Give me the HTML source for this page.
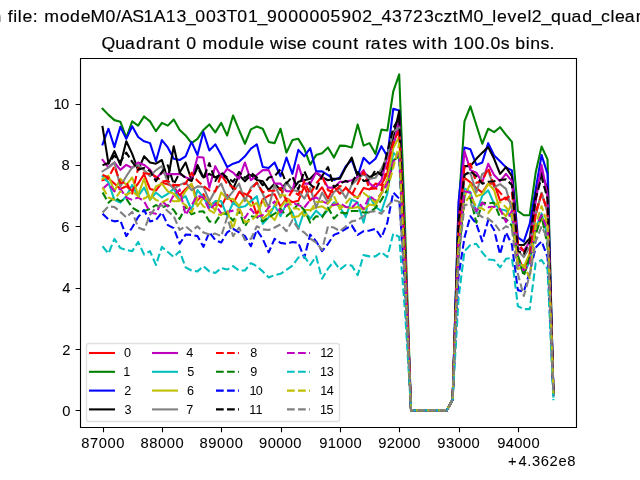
<!DOCTYPE html>
<html><head><meta charset="utf-8"><title>Quadrant 0 module wise count rates</title>
<style>
html,body{margin:0;padding:0;background:#fff;}
body{width:640px;height:480px;overflow:hidden;}
svg{display:block;}
text{font-family:"Liberation Sans",sans-serif;fill:#000;}
.t{opacity:0.999;will-change:transform;}
</style></head><body>
<svg width="640" height="480" viewBox="0 0 640 480">
<rect x="0" y="0" width="640" height="480" fill="#fff"/>
<defs><clipPath id="ax"><rect x="80" y="57.6" width="496" height="369.6"/></clipPath></defs>
<g clip-path="url(#ax)" fill="none" stroke-width="2.0833" stroke-linejoin="round">
<polyline stroke="#ff0000" stroke-linecap="square" points="102.55,180.25 108.48,178.58 114.41,183.59 120.34,188.94 126.28,186.21 132.21,190.94 138.14,183.48 144.08,174.28 150.01,188.95 155.94,190.55 161.88,182.64 167.81,184.28 173.74,186.82 179.67,195.38 185.61,189.08 191.54,184.13 197.47,200.39 203.41,194.21 209.34,205.89 215.27,201.82 221.21,206.67 227.14,194.95 233.07,203.49 239.00,192.30 244.94,193.79 250.87,197.04 256.80,214.78 262.74,199.48 268.67,195.59 274.60,194.22 280.54,206.70 286.47,198.50 292.40,202.22 298.33,200.79 304.27,186.32 310.20,200.52 316.13,194.45 322.07,187.29 328.00,198.42 333.93,186.40 339.87,193.76 345.80,187.93 351.73,193.76 357.67,198.06 363.60,187.93 369.53,189.47 375.46,183.64 381.40,184.87 387.33,173.21 393.26,131.90 399.20,128.59 405.13,275.92 411.06,410.40 417.00,410.40 422.93,410.40 428.86,410.40 434.79,410.40 440.73,410.40 446.66,410.40 452.59,399.66 458.53,235.37 464.46,177.73 470.39,182.43 476.33,187.99 482.26,192.59 488.19,183.72 494.12,183.35 500.06,200.69 505.99,197.48 511.92,203.76 517.86,256.87 523.79,269.30 529.72,256.84 535.66,215.21 541.59,193.21 547.52,211.34 553.45,393.52"/>
<polyline stroke="#008000" stroke-linecap="square" points="102.55,108.77 108.48,114.90 114.41,120.12 120.34,121.65 126.28,137.61 132.21,121.35 138.14,125.64 144.08,116.44 150.01,121.35 155.94,131.17 161.88,122.88 167.81,125.64 173.74,119.51 179.67,129.94 185.61,135.46 191.54,143.13 197.47,138.84 203.41,129.94 209.34,124.42 215.27,132.39 221.21,122.88 227.14,135.46 233.07,115.52 239.00,129.94 244.94,143.75 250.87,129.33 256.80,126.56 262.74,128.71 268.67,141.91 274.60,143.13 280.54,128.71 286.47,152.65 292.40,140.07 298.33,138.84 304.27,148.66 310.20,164.61 316.13,155.10 322.07,153.26 328.00,147.43 333.93,157.56 339.87,145.59 345.80,145.90 351.73,147.43 357.67,124.42 363.60,145.59 369.53,143.13 375.46,153.87 381.40,129.63 387.33,130.55 393.26,91.28 399.20,74.40 405.13,229.36 411.06,410.40 417.00,410.40 422.93,410.40 428.86,410.40 434.79,410.40 440.73,410.40 446.66,410.40 452.59,399.66 458.53,207.88 464.46,121.35 470.39,106.31 476.33,125.03 482.26,143.75 488.19,128.71 494.12,132.09 500.06,127.18 505.99,134.85 511.92,141.91 517.86,210.95 523.79,215.24 529.72,215.24 535.66,172.59 541.59,146.51 547.52,159.40 553.45,395.06"/>
<polyline stroke="#0000ff" stroke-linecap="square" points="102.55,144.36 108.48,128.71 114.41,147.12 120.34,126.87 126.28,138.84 132.21,126.26 138.14,137.00 144.08,141.29 150.01,143.13 155.94,161.24 161.88,140.07 167.81,147.43 173.74,158.78 179.67,160.01 185.61,156.33 191.54,141.91 197.47,155.10 203.41,132.09 209.34,150.50 215.27,144.36 221.21,155.10 227.14,167.07 233.07,163.69 239.00,161.85 244.94,156.33 250.87,148.66 256.80,144.36 262.74,167.07 268.67,167.99 274.60,162.47 280.54,176.27 286.47,157.56 292.40,173.82 298.33,149.88 304.27,156.33 310.20,148.04 316.13,171.36 322.07,171.36 328.00,175.05 333.93,179.96 339.87,177.50 345.80,166.15 351.73,160.01 357.67,176.27 363.60,157.86 369.53,163.69 375.46,158.78 381.40,146.20 387.33,156.33 393.26,108.77 399.20,110.61 405.13,249.31 411.06,410.40 417.00,410.40 422.93,410.40 428.86,410.40 434.79,410.40 440.73,410.40 446.66,410.40 452.59,399.66 458.53,202.17 464.46,147.43 470.39,149.27 476.33,164.92 482.26,162.47 488.19,143.13 494.12,155.41 500.06,161.24 505.99,167.38 511.92,170.44 517.86,237.34 523.79,241.63 529.72,223.84 535.66,189.47 541.59,155.10 547.52,173.82 553.45,391.99"/>
<polyline stroke="#000000" stroke-linecap="square" points="102.55,126.87 108.48,163.69 114.41,151.11 120.34,164.92 126.28,141.29 132.21,153.87 138.14,170.14 144.08,156.33 150.01,162.47 155.94,163.69 161.88,160.01 167.81,179.96 173.74,146.20 179.67,172.59 185.61,162.47 191.54,179.96 197.47,164.92 203.41,177.50 209.34,173.82 215.27,177.50 221.21,174.13 227.14,178.73 233.07,188.85 239.00,175.05 244.94,181.18 250.87,175.05 256.80,179.96 262.74,181.18 268.67,190.08 274.60,183.64 280.54,190.08 286.47,182.41 292.40,190.08 298.33,181.80 304.27,180.26 310.20,178.73 316.13,172.59 322.07,177.19 328.00,180.26 333.93,178.73 339.87,178.73 345.80,167.38 351.73,157.56 357.67,176.27 363.60,172.59 369.53,177.19 375.46,174.13 381.40,172.59 387.33,155.10 393.26,137.30 399.20,110.92 405.13,257.92 411.06,410.40 417.00,410.40 422.93,410.40 428.86,410.40 434.79,410.40 440.73,410.40 446.66,410.40 452.59,399.66 458.53,219.83 464.46,166.15 470.39,166.15 476.33,158.78 482.26,152.65 488.19,147.12 494.12,158.78 500.06,173.82 505.99,167.07 511.92,176.27 517.86,244.70 523.79,245.01 529.72,238.56 535.66,195.61 541.59,172.59 547.52,189.47 553.45,391.99"/>
<polyline stroke="#bf00bf" stroke-linecap="square" points="102.55,160.01 108.48,167.38 114.41,162.47 120.34,169.83 126.28,164.92 132.21,167.99 138.14,162.47 144.08,164.92 150.01,169.52 155.94,178.73 161.88,172.59 167.81,174.13 173.74,174.13 179.67,174.13 185.61,177.19 191.54,179.96 197.47,156.94 203.41,157.56 209.34,187.63 215.27,166.15 221.21,177.19 227.14,168.91 233.07,172.59 239.00,178.73 244.94,162.47 250.87,180.26 256.80,175.05 262.74,170.14 268.67,170.14 274.60,183.64 280.54,183.64 286.47,191.31 292.40,191.31 298.33,164.92 304.27,183.64 310.20,183.64 316.13,172.59 322.07,176.27 328.00,187.63 333.93,187.63 339.87,181.80 345.80,181.80 351.73,180.26 357.67,177.19 363.60,170.14 369.53,183.33 375.46,187.93 381.40,180.26 387.33,157.56 393.26,147.43 399.20,119.51 405.13,252.84 411.06,410.40 417.00,410.40 422.93,410.40 428.86,410.40 434.79,410.40 440.73,410.40 446.66,410.40 452.59,399.66 458.53,223.69 464.46,151.11 470.39,170.14 476.33,172.59 482.26,182.41 488.19,163.69 494.12,175.05 500.06,181.18 505.99,173.82 511.92,181.18 517.86,247.77 523.79,250.84 529.72,241.63 535.66,201.74 541.59,164.92 547.52,195.61 553.45,393.52"/>
<polyline stroke="#00bfbf" stroke-linecap="square" points="102.55,176.27 108.48,182.41 114.41,199.90 120.34,202.66 126.28,196.22 132.21,184.87 138.14,196.22 144.08,187.63 150.01,199.90 155.94,192.54 161.88,197.45 167.81,193.76 173.74,188.85 179.67,199.90 185.61,196.22 191.54,210.03 197.47,190.08 203.41,197.45 209.34,207.57 215.27,201.13 221.21,201.13 227.14,216.16 233.07,202.66 239.00,207.57 244.94,206.35 250.87,201.13 256.80,196.22 262.74,223.84 268.67,217.39 274.60,205.12 280.54,216.16 286.47,203.58 292.40,212.48 298.33,228.75 304.27,211.25 310.20,218.62 316.13,210.64 322.07,216.16 328.00,210.03 333.93,202.36 339.87,206.96 345.80,217.08 351.73,199.59 357.67,202.36 363.60,222.61 369.53,196.53 375.46,206.96 381.40,211.25 387.33,193.76 393.26,152.64 399.20,158.20 405.13,271.19 411.06,410.40 417.00,410.40 422.93,410.40 428.86,410.40 434.79,410.40 440.73,410.40 446.66,410.40 452.59,399.66 458.53,249.98 464.46,188.25 470.39,192.23 476.33,212.81 482.26,195.72 488.19,190.40 494.12,203.79 500.06,209.20 505.99,210.57 511.92,217.65 517.86,258.75 523.79,272.96 529.72,261.66 535.66,228.95 541.59,213.44 547.52,236.07 553.45,396.59"/>
<polyline stroke="#bfbf00" stroke-linecap="square" points="102.55,178.73 108.48,175.66 114.41,191.31 120.34,178.73 126.28,184.87 132.21,177.50 138.14,194.99 144.08,178.73 150.01,199.90 155.94,186.40 161.88,183.64 167.81,191.31 173.74,193.76 179.67,200.99 185.61,191.05 191.54,183.58 197.47,206.27 203.41,197.45 209.34,201.44 215.27,210.83 221.21,192.42 227.14,198.98 233.07,198.99 239.00,206.04 244.94,197.52 250.87,205.88 256.80,202.97 262.74,218.62 268.67,213.71 274.60,220.15 280.54,207.57 286.47,199.90 292.40,217.39 298.33,216.16 304.27,210.03 310.20,210.03 316.13,207.57 322.07,206.35 328.00,210.03 333.93,203.89 339.87,205.42 345.80,206.96 351.73,208.19 357.67,206.96 363.60,209.72 369.53,204.50 375.46,205.42 381.40,193.76 387.33,179.04 393.26,147.90 399.20,136.79 405.13,276.06 411.06,410.40 417.00,410.40 422.93,410.40 428.86,410.40 434.79,410.40 440.73,410.40 446.66,410.40 452.59,399.66 458.53,232.31 464.46,196.52 470.39,183.58 476.33,196.38 482.26,194.05 488.19,183.66 494.12,190.30 500.06,210.66 505.99,216.11 511.92,202.84 517.86,268.94 523.79,267.01 529.72,253.34 535.66,230.60 541.59,218.69 547.52,223.14 553.45,393.52"/>
<polyline stroke="#808080" stroke-linecap="square" points="102.55,171.36 108.48,167.38 114.41,162.47 120.34,186.40 126.28,176.27 132.21,167.38 138.14,164.92 144.08,170.14 150.01,176.27 155.94,170.14 161.88,166.15 167.81,182.41 173.74,188.85 179.67,184.87 185.61,182.41 191.54,190.08 197.47,186.40 203.41,187.01 209.34,201.13 215.27,190.70 221.21,183.64 227.14,198.67 233.07,191.31 239.00,183.64 244.94,201.13 250.87,187.63 256.80,182.41 262.74,193.76 268.67,207.57 274.60,184.87 280.54,197.45 286.47,182.41 292.40,190.08 298.33,191.31 304.27,198.67 310.20,187.63 316.13,207.57 322.07,192.54 328.00,202.66 333.93,191.92 339.87,188.55 345.80,198.06 351.73,184.87 357.67,179.04 363.60,174.13 369.53,179.04 375.46,177.81 381.40,168.91 387.33,155.72 393.26,131.55 399.20,127.58 405.13,256.79 411.06,410.40 417.00,410.40 422.93,410.40 428.86,410.40 434.79,410.40 440.73,410.40 446.66,410.40 452.59,399.66 458.53,237.40 464.46,173.95 470.39,173.15 476.33,192.53 482.26,173.83 488.19,170.92 494.12,187.25 500.06,184.19 505.99,188.86 511.92,209.48 517.86,250.66 523.79,257.10 529.72,247.17 535.66,213.61 541.59,192.84 547.52,212.62 553.45,391.99"/>
<polyline stroke="#ff0000" stroke-linecap="butt" stroke-dasharray="7.708 3.333" points="102.55,174.63 108.48,177.73 114.41,166.45 120.34,182.93 126.28,182.15 132.21,193.59 138.14,168.10 144.08,173.23 150.01,174.09 155.94,176.48 161.88,181.26 167.81,180.94 173.74,185.02 179.67,185.14 185.61,183.65 191.54,172.96 197.47,180.79 203.41,185.99 209.34,190.48 215.27,191.39 221.21,174.72 227.14,183.62 233.07,187.48 239.00,191.14 244.94,197.49 250.87,189.98 256.80,182.64 262.74,192.22 268.67,190.83 274.60,190.65 280.54,187.99 286.47,200.92 292.40,190.38 298.33,195.00 304.27,181.53 310.20,194.10 316.13,183.64 322.07,176.24 328.00,190.21 333.93,192.29 339.87,186.08 345.80,187.44 351.73,194.92 357.67,183.63 363.60,171.58 369.53,188.89 375.46,188.34 381.40,190.20 387.33,166.17 393.26,142.38 399.20,130.22 405.13,255.67 411.06,410.40 417.00,410.40 422.93,410.40 428.86,410.40 434.79,410.40 440.73,410.40 446.66,410.40 452.59,399.66 458.53,235.18 464.46,166.50 470.39,163.78 476.33,182.84 482.26,181.04 488.19,167.93 494.12,185.64 500.06,192.59 505.99,199.52 511.92,193.22 517.86,243.15 523.79,250.85 529.72,253.49 535.66,212.28 541.59,194.31 547.52,209.76 553.45,393.52"/>
<polyline stroke="#008000" stroke-linecap="butt" stroke-dasharray="7.708 3.333" points="102.55,192.54 108.48,202.66 114.41,197.45 120.34,201.13 126.28,198.67 132.21,207.57 138.14,211.25 144.08,211.25 150.01,208.80 155.94,205.12 161.88,207.57 167.81,205.12 173.74,210.03 179.67,218.93 185.61,206.35 191.54,214.32 197.47,211.87 203.41,211.25 209.34,221.38 215.27,222.61 221.21,213.71 227.14,213.71 233.07,220.77 239.00,210.95 244.94,226.29 250.87,216.16 256.80,217.08 262.74,221.38 268.67,217.39 274.60,213.71 280.54,208.80 286.47,216.16 292.40,211.25 298.33,203.58 304.27,210.03 310.20,222.61 316.13,216.16 322.07,217.39 328.00,207.57 333.93,218.62 339.87,212.48 345.80,213.40 351.73,210.95 357.67,210.95 363.60,212.48 369.53,212.48 375.46,207.88 381.40,199.90 387.33,189.47 393.26,160.82 399.20,155.88 405.13,288.24 411.06,410.40 417.00,410.40 422.93,410.40 428.86,410.40 434.79,410.40 440.73,410.40 446.66,410.40 452.59,399.66 458.53,256.60 464.46,196.09 470.39,198.19 476.33,222.66 482.26,202.73 488.19,203.35 494.12,202.76 500.06,217.35 505.99,218.80 511.92,225.89 517.86,255.25 523.79,275.89 529.72,257.09 535.66,234.92 541.59,215.98 547.52,245.19 553.45,395.06"/>
<polyline stroke="#0000ff" stroke-linecap="butt" stroke-dasharray="7.708 3.333" points="102.55,213.71 108.48,219.54 114.41,221.38 120.34,220.46 126.28,236.11 132.21,227.52 138.14,217.08 144.08,210.03 150.01,221.38 155.94,220.15 161.88,212.48 167.81,225.06 173.74,228.13 179.67,243.78 185.61,234.58 191.54,234.88 197.47,236.11 203.41,246.85 209.34,232.12 215.27,240.10 221.21,242.55 227.14,232.43 233.07,228.75 239.00,232.43 244.94,236.11 250.87,246.24 256.80,229.97 262.74,238.87 268.67,252.37 274.60,238.87 280.54,242.86 286.47,243.78 292.40,241.94 298.33,242.86 304.27,257.90 310.20,234.58 316.13,241.33 322.07,251.15 328.00,243.78 333.93,234.88 339.87,232.43 345.80,228.75 351.73,225.37 357.67,234.88 363.60,231.20 369.53,230.59 375.46,228.75 381.40,237.64 387.33,222.61 393.26,192.54 399.20,198.67 405.13,289.19 411.06,410.40 417.00,410.40 422.93,410.40 428.86,410.40 434.79,410.40 440.73,410.40 446.66,410.40 452.59,399.66 458.53,276.33 464.46,237.64 470.39,216.16 476.33,223.84 482.26,241.33 488.19,220.15 494.12,229.97 500.06,254.21 505.99,232.43 511.92,244.70 517.86,290.12 523.79,291.65 529.72,272.32 535.66,247.46 541.59,241.33 547.52,256.98 553.45,395.06"/>
<polyline stroke="#000000" stroke-linecap="butt" stroke-dasharray="7.708 3.333" points="102.55,165.23 108.48,163.08 114.41,155.72 120.34,161.85 126.28,152.65 132.21,161.85 138.14,169.52 144.08,167.99 150.01,171.06 155.94,181.20 161.88,172.04 167.81,165.27 173.74,184.14 179.67,172.75 185.61,178.13 191.54,181.01 197.47,167.33 203.41,178.22 209.34,163.12 215.27,180.97 221.21,172.39 227.14,177.47 233.07,181.87 239.00,171.95 244.94,178.02 250.87,172.57 256.80,177.43 262.74,185.27 268.67,177.59 274.60,176.28 280.54,169.20 286.47,183.38 292.40,176.60 298.33,189.38 304.27,171.05 310.20,184.21 316.13,189.65 322.07,176.11 328.00,167.05 333.93,187.10 339.87,183.62 345.80,180.85 351.73,183.69 357.67,171.98 363.60,180.96 369.53,180.17 375.46,170.03 381.40,175.46 387.33,152.04 393.26,128.21 399.20,117.88 405.13,268.14 411.06,410.40 417.00,410.40 422.93,410.40 428.86,410.40 434.79,410.40 440.73,410.40 446.66,410.40 452.59,399.66 458.53,220.15 464.46,175.05 470.39,171.06 476.33,176.27 482.26,183.64 488.19,181.80 494.12,181.18 500.06,179.96 505.99,179.34 511.92,184.87 517.86,250.84 523.79,253.91 529.72,241.63 535.66,198.67 541.59,177.19 547.52,198.67 553.45,391.99"/>
<polyline stroke="#bf00bf" stroke-linecap="butt" stroke-dasharray="7.708 3.333" points="102.55,188.85 108.48,183.64 114.41,191.31 120.34,188.85 126.28,197.45 132.21,199.90 138.14,197.45 144.08,201.13 150.01,212.48 155.94,213.71 161.88,201.13 167.81,206.35 173.74,194.99 179.67,189.47 185.61,214.94 191.54,205.12 197.47,195.61 203.41,197.45 209.34,210.03 215.27,203.89 221.21,213.71 227.14,211.87 233.07,210.64 239.00,209.41 244.94,218.01 250.87,208.80 256.80,216.78 262.74,215.19 268.67,207.57 274.60,201.44 280.54,212.48 286.47,205.12 292.40,202.66 298.33,205.12 304.27,207.57 310.20,199.90 316.13,197.45 322.07,201.13 328.00,203.89 333.93,205.12 339.87,203.20 345.80,206.92 351.73,207.50 357.67,201.81 363.60,208.91 369.53,195.81 375.46,200.81 381.40,193.43 387.33,183.62 393.26,161.90 399.20,152.89 405.13,277.08 411.06,410.40 417.00,410.40 422.93,410.40 428.86,410.40 434.79,410.40 440.73,410.40 446.66,410.40 452.59,399.66 458.53,247.89 464.46,191.25 470.39,192.71 476.33,211.41 482.26,202.64 488.19,207.15 494.12,206.84 500.06,209.01 505.99,222.01 511.92,210.79 517.86,264.33 523.79,270.37 529.72,263.71 535.66,226.08 541.59,215.27 547.52,229.59 553.45,395.67"/>
<polyline stroke="#00bfbf" stroke-linecap="butt" stroke-dasharray="7.708 3.333" points="102.55,246.24 108.48,253.60 114.41,238.87 120.34,248.08 126.28,249.92 132.21,251.15 138.14,241.94 144.08,254.52 150.01,251.15 155.94,264.95 161.88,246.85 167.81,252.07 173.74,256.98 179.67,251.15 185.61,267.41 191.54,270.48 197.47,271.40 203.41,266.18 209.34,271.40 215.27,272.93 221.21,268.02 227.14,269.56 233.07,266.18 239.00,270.48 244.94,270.48 250.87,263.11 256.80,266.18 262.74,271.40 268.67,277.53 274.60,275.08 280.54,273.85 286.47,269.86 292.40,265.57 298.33,257.59 304.27,256.36 310.20,264.95 316.13,256.36 322.07,278.76 328.00,268.64 333.93,261.27 339.87,269.56 345.80,264.95 351.73,265.57 357.67,275.08 363.60,255.13 369.53,256.36 375.46,256.36 381.40,252.07 387.33,256.98 393.26,233.65 399.20,237.03 405.13,313.28 411.06,410.40 417.00,410.40 422.93,410.40 428.86,410.40 434.79,410.40 440.73,410.40 446.66,410.40 452.59,399.66 458.53,298.95 464.46,251.15 470.39,245.01 476.33,243.78 482.26,252.37 488.19,259.43 494.12,260.04 500.06,267.41 505.99,258.82 511.92,257.90 517.86,306.07 523.79,309.14 529.72,309.14 535.66,263.11 541.59,260.04 547.52,269.25 553.45,400.27"/>
<polyline stroke="#bfbf00" stroke-linecap="butt" stroke-dasharray="7.708 3.333" points="102.55,187.63 108.48,197.45 114.41,199.90 120.34,191.31 126.28,194.99 132.21,191.31 138.14,196.22 144.08,198.67 150.01,194.99 155.94,199.90 161.88,202.36 167.81,199.19 173.74,201.26 179.67,201.13 185.61,205.12 191.54,212.48 197.47,198.67 203.41,206.35 209.34,210.03 215.27,213.71 221.21,214.94 227.14,210.11 233.07,228.90 239.00,207.07 244.94,221.90 250.87,220.89 256.80,215.31 262.74,200.16 268.67,212.26 274.60,206.82 280.54,194.98 286.47,195.65 292.40,208.16 298.33,208.71 304.27,216.02 310.20,211.16 316.13,202.06 322.07,201.78 328.00,203.45 333.93,196.16 339.87,209.20 345.80,203.20 351.73,196.64 357.67,197.26 363.60,193.02 369.53,197.67 375.46,202.58 381.40,192.70 387.33,189.98 393.26,167.79 399.20,143.81 405.13,276.12 411.06,410.40 417.00,410.40 422.93,410.40 428.86,410.40 434.79,410.40 440.73,410.40 446.66,410.40 452.59,399.66 458.53,242.82 464.46,203.36 470.39,195.18 476.33,206.98 482.26,208.60 488.19,212.99 494.12,205.35 500.06,201.93 505.99,207.17 511.92,215.27 517.86,265.52 523.79,264.92 529.72,278.22 535.66,224.77 541.59,206.17 547.52,223.96 553.45,393.52"/>
<polyline stroke="#808080" stroke-linecap="butt" stroke-dasharray="7.708 3.333" points="102.55,212.48 108.48,206.35 114.41,206.96 120.34,211.87 126.28,217.39 132.21,211.87 138.14,227.52 144.08,229.97 150.01,214.94 155.94,207.57 161.88,205.12 167.81,211.25 173.74,216.16 179.67,229.97 185.61,226.29 191.54,231.20 197.47,226.29 203.41,232.43 209.34,234.58 215.27,233.65 221.21,236.11 227.14,217.39 233.07,236.11 239.00,227.52 244.94,240.10 250.87,238.87 256.80,226.29 262.74,229.36 268.67,229.97 274.60,227.52 280.54,224.45 286.47,231.20 292.40,220.15 298.33,228.75 304.27,232.43 310.20,238.56 316.13,242.55 322.07,249.92 328.00,226.29 333.93,227.52 339.87,231.20 345.80,226.29 351.73,221.38 357.67,220.15 363.60,216.16 369.53,211.87 375.46,211.25 381.40,213.71 387.33,206.35 393.26,199.90 399.20,201.74 405.13,282.37 411.06,410.40 417.00,410.40 422.93,410.40 428.86,410.40 434.79,410.40 440.73,410.40 446.66,410.40 452.59,399.66 458.53,259.48 464.46,205.12 470.39,203.89 476.33,212.48 482.26,217.08 488.19,218.62 494.12,223.22 500.06,231.20 505.99,226.29 511.92,229.36 517.86,273.85 523.79,295.95 529.72,275.39 535.66,241.63 541.59,226.29 547.52,238.56 553.45,393.52"/>
</g>
<g stroke="#000" stroke-width="1.111" fill="none" stroke-linecap="square">
<path d="M80.5 58.5V427.5M576.5 58.5V427.5M80.5 58.5H576.5M80.5 427.5H576.5"/>
<path stroke-linecap="butt" d="M103.5 427.5V432.36M162.5 427.5V432.36M221.5 427.5V432.36M281.5 427.5V432.36M340.5 427.5V432.36M399.5 427.5V432.36M459.5 427.5V432.36M518.5 427.5V432.36M80.5 410.5H75.64M80.5 349.5H75.64M80.5 288.5H75.64M80.5 226.5H75.64M80.5 165.5H75.64M80.5 104.5H75.64"/>
</g>
<rect x="86.5" y="343.5" width="253" height="78" rx="2.3" ry="2.3" fill="#fff" fill-opacity="0.8" stroke="#e0e0e0" stroke-width="1.389"/>
<line x1="89.00" y1="353.00" x2="115.00" y2="353.00" stroke="#ff0000" stroke-width="2.0833" stroke-linecap="butt"/>
<line x1="89.00" y1="371.80" x2="115.00" y2="371.80" stroke="#008000" stroke-width="2.0833" stroke-linecap="butt"/>
<line x1="89.00" y1="390.60" x2="115.00" y2="390.60" stroke="#0000ff" stroke-width="2.0833" stroke-linecap="butt"/>
<line x1="89.00" y1="409.40" x2="115.00" y2="409.40" stroke="#000000" stroke-width="2.0833" stroke-linecap="butt"/>
<line x1="152.00" y1="353.00" x2="178.00" y2="353.00" stroke="#bf00bf" stroke-width="2.0833" stroke-linecap="butt"/>
<line x1="152.00" y1="371.80" x2="178.00" y2="371.80" stroke="#00bfbf" stroke-width="2.0833" stroke-linecap="butt"/>
<line x1="152.00" y1="390.60" x2="178.00" y2="390.60" stroke="#bfbf00" stroke-width="2.0833" stroke-linecap="butt"/>
<line x1="152.00" y1="409.40" x2="178.00" y2="409.40" stroke="#808080" stroke-width="2.0833" stroke-linecap="butt"/>
<line x1="216.00" y1="353.00" x2="239.00" y2="353.00" stroke="#ff0000" stroke-width="2.0833" stroke-linecap="butt" stroke-dasharray="7.708 3.333"/>
<line x1="216.00" y1="371.80" x2="239.00" y2="371.80" stroke="#008000" stroke-width="2.0833" stroke-linecap="butt" stroke-dasharray="7.708 3.333"/>
<line x1="216.00" y1="390.60" x2="239.00" y2="390.60" stroke="#0000ff" stroke-width="2.0833" stroke-linecap="butt" stroke-dasharray="7.708 3.333"/>
<line x1="216.00" y1="409.40" x2="239.00" y2="409.40" stroke="#000000" stroke-width="2.0833" stroke-linecap="butt" stroke-dasharray="7.708 3.333"/>
<line x1="287.00" y1="353.00" x2="310.00" y2="353.00" stroke="#bf00bf" stroke-width="2.0833" stroke-linecap="butt" stroke-dasharray="7.708 3.333"/>
<line x1="287.00" y1="371.80" x2="310.00" y2="371.80" stroke="#00bfbf" stroke-width="2.0833" stroke-linecap="butt" stroke-dasharray="7.708 3.333"/>
<line x1="287.00" y1="390.60" x2="310.00" y2="390.60" stroke="#bfbf00" stroke-width="2.0833" stroke-linecap="butt" stroke-dasharray="7.708 3.333"/>
<line x1="287.00" y1="409.40" x2="310.00" y2="409.40" stroke="#808080" stroke-width="2.0833" stroke-linecap="butt" stroke-dasharray="7.708 3.333"/>
<g class="t">
<text transform="scale(1.0400,1)" x="78.22 86.61 95.04 103.45 111.86" y="447.92" font-size="14.167" stroke="#000" stroke-width="0.06">87000</text>
<text transform="scale(1.0400,1)" x="135.07 143.50 151.92 160.34 168.77" y="447.92" font-size="14.167" stroke="#000" stroke-width="0.06">88000</text>
<text transform="scale(1.0400,1)" x="191.83 200.27 208.78 217.25 225.72" y="447.92" font-size="14.167" stroke="#000" stroke-width="0.06">89000</text>
<text transform="scale(1.0400,1)" x="249.12 257.36 265.56 273.76 281.96" y="447.92" font-size="14.167" stroke="#000" stroke-width="0.06">90000</text>
<text transform="scale(1.0400,1)" x="306.96 315.12 323.41 331.62 339.83" y="447.92" font-size="14.167" stroke="#000" stroke-width="0.06">91000</text>
<text transform="scale(1.0400,1)" x="363.72 371.76 380.11 388.28 396.46" y="447.92" font-size="14.167" stroke="#000" stroke-width="0.06">92000</text>
<text transform="scale(1.0400,1)" x="420.52 428.81 437.02 445.25 453.49" y="447.92" font-size="14.167" stroke="#000" stroke-width="0.06">93000</text>
<text transform="scale(1.0400,1)" x="478.03 486.29 494.53 502.76 511.00" y="447.92" font-size="14.167" stroke="#000" stroke-width="0.06">94000</text>
<text transform="scale(1.0400,1)" x="59.88" y="415.90" font-size="14.167" stroke="#000" stroke-width="0.06">0</text>
<text transform="scale(1.0400,1)" x="59.84" y="354.53" font-size="14.167" stroke="#000" stroke-width="0.06">2</text>
<text transform="scale(1.0400,1)" x="59.83" y="293.16" font-size="14.167" stroke="#000" stroke-width="0.06">4</text>
<text transform="scale(1.0400,1)" x="58.98" y="231.79" font-size="14.167" stroke="#000" stroke-width="0.06">6</text>
<text transform="scale(1.0400,1)" x="59.03" y="170.42" font-size="14.167" stroke="#000" stroke-width="0.06">8</text>
<text transform="scale(1.0400,1)" x="51.33 58.73" y="109.05" font-size="14.167" stroke="#000" stroke-width="0.06">10</text>
<text transform="scale(1.0400,1)" x="488.57 498.66 507.03 511.51 520.03 528.40 537.01 545.39" y="466.09" font-size="14.167" stroke="#000" stroke-width="0.05">+4.362e8</text>
<text transform="scale(1.0400,1)" x="97.55 110.78 120.21 130.73 141.43 146.82 157.46 167.98 175.03 178.98 190.33 194.70 209.74 219.63 229.86 240.05 244.41 255.54 259.56 272.60 276.75 285.31 296.44 300.01 309.04 318.98 329.22 339.74 346.79 351.17 356.56 367.55 373.34 383.01 392.83 396.85 409.89 414.74 420.65 431.96 435.84 446.12 456.32 466.35 471.62 481.51 491.33 495.39 505.45 509.95 519.77 528.27" y="49.27" font-size="17.000" stroke="#000" stroke-width="0.18">Quadrant 0 module wise count rates with 100.0s bins.</text>
<text transform="scale(1.0400,1)" x="-8.14 3.16 7.41 12.74 17.19 21.55 31.53 38.10 42.47 57.51 67.41 77.56 87.04 101.40 111.59 116.46 127.14 138.10 147.84 159.29 169.61 178.74 187.81 198.02 208.26 217.78 228.24 238.37 247.62 256.63 266.89 277.10 287.30 297.51 307.72 317.88 328.10 338.35 348.36 357.73 366.80 377.03 387.19 397.22 407.66 417.45 426.34 435.46 440.86 455.22 464.39 473.43 477.79 487.92 497.16 507.13 511.41 520.78 529.74 539.98 549.42 559.94 569.18 577.85 587.04 591.40 600.61 611.25 621.21 626.38 636.50 646.25" y="21.90" font-size="17.000" stroke="#000" stroke-width="0.16">n file: modeM0/AS1A13_003T01_9000005902_43723cztM0_level2_quad_clean.evt</text>
<text transform="scale(1.0400,1)" x="119.32" y="357.43" font-size="12.148">0</text>
<text transform="scale(1.0400,1)" x="118.40" y="376.22" font-size="12.148">1</text>
<text transform="scale(1.0400,1)" x="119.39" y="395.00" font-size="12.148">2</text>
<text transform="scale(1.0400,1)" x="119.64" y="413.79" font-size="12.148">3</text>
<text transform="scale(1.0400,1)" x="179.02" y="357.43" font-size="12.148">4</text>
<text transform="scale(1.0400,1)" x="179.97" y="376.22" font-size="12.148">5</text>
<text transform="scale(1.0400,1)" x="179.86" y="395.00" font-size="12.148">6</text>
<text transform="scale(1.0400,1)" x="179.15" y="413.79" font-size="12.148">7</text>
<text transform="scale(1.0400,1)" x="240.55" y="357.43" font-size="12.148">8</text>
<text transform="scale(1.0400,1)" x="240.52" y="376.22" font-size="12.148">9</text>
<text transform="scale(1.0400,1)" x="239.83 245.88" y="395.00" font-size="12.148">10</text>
<text transform="scale(1.0400,1)" x="239.61 245.77" y="413.79" font-size="12.148">11</text>
<text transform="scale(1.0400,1)" x="307.92 314.05" y="357.43" font-size="12.148">12</text>
<text transform="scale(1.0400,1)" x="307.74 314.13" y="376.22" font-size="12.148">13</text>
<text transform="scale(1.0400,1)" x="308.04 314.14" y="395.00" font-size="12.148">14</text>
<text transform="scale(1.0400,1)" x="307.75 313.86" y="413.79" font-size="12.148">15</text>
</g>
</svg>
</body></html>
